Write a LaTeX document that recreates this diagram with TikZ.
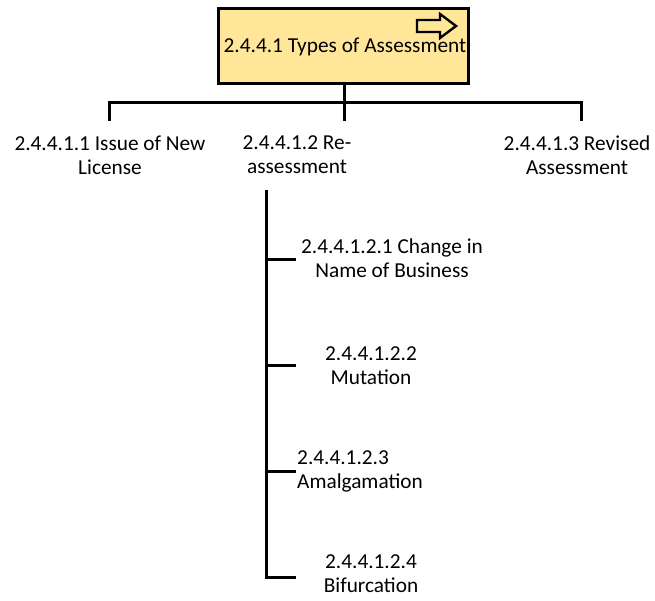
\documentclass[tikz,border=0pt]{standalone}
\usepackage{fontspec}
\setmainfont{Carlito}
\definecolor{boxyellow}{HTML}{FFE699}
\begin{document}
\begin{tikzpicture}[x=1pt,y=-1pt,
  lbl/.style={align=center,inner sep=0pt,font=\fontsize{21.3}{24}\selectfont},
  conn/.style={line width=3pt,line cap=rect}]
\useasboundingbox (0,0) rectangle (655,600);
% title box
\node[draw=black,line width=3pt,fill=boxyellow,minimum width=250pt,minimum height=75pt,inner sep=0pt] (t) at (343,45.5) {};
\node[lbl] (tt) at (345,47) {2.4.4.1 Types of Assessment};
\draw[line width=2.4pt,line join=miter] (417,20) -- (440,20) -- (440,14) -- (456,26) -- (440,38) -- (440,32) -- (417,32) -- cycle;
% level 1 labels
\node[lbl] (a) at (110,155) {2.4.4.1.1 Issue of New\\License};
\node[lbl] (b) at (297,155) {2.4.4.1.2 Re-\\assessment};
\node[lbl] (c) at (577,155) {2.4.4.1.3 Revised\\Assessment};
% level 2 labels
\node[lbl] (b1) at (392,258) {2.4.4.1.2.1 Change in\\Name of Business};
\node[lbl] (b2) at (371,366) {2.4.4.1.2.2\\Mutation};
\node[lbl,align=left,anchor=west] (b3) at (297,471) {2.4.4.1.2.3\\Amalgamation};
\node[lbl] (b4) at (371,574) {2.4.4.1.2.4\\Bifurcation};
% connectors
\coordinate (hM) at (344,102);
\coordinate (hL) at (109,102);
\coordinate (hR) at (581,102);
\coordinate (dL) at (109,119);
\coordinate (dM) at (344,119);
\coordinate (dR) at (581,119);
\draw[conn] (t.south -| hM) -- (hM);
\draw[conn] (hL) -- (hR);
\draw[conn] (hL) -- (dL);
\draw[conn] (hM) -- (dM);
\draw[conn] (hR) -- (dR);
\coordinate (vT) at (266,191);
\coordinate (v1) at (266,259);
\coordinate (v2) at (266,365);
\coordinate (v3) at (266,471);
\coordinate (v4) at (266,577);
\draw[conn] (vT) -- (v4);
\draw[conn] (v1) -- (294,259);
\draw[conn] (v2) -- (294,365);
\draw[conn] (v3) -- (294,471);
\draw[conn] (v4) -- (294,577);
\end{tikzpicture}
\end{document}
